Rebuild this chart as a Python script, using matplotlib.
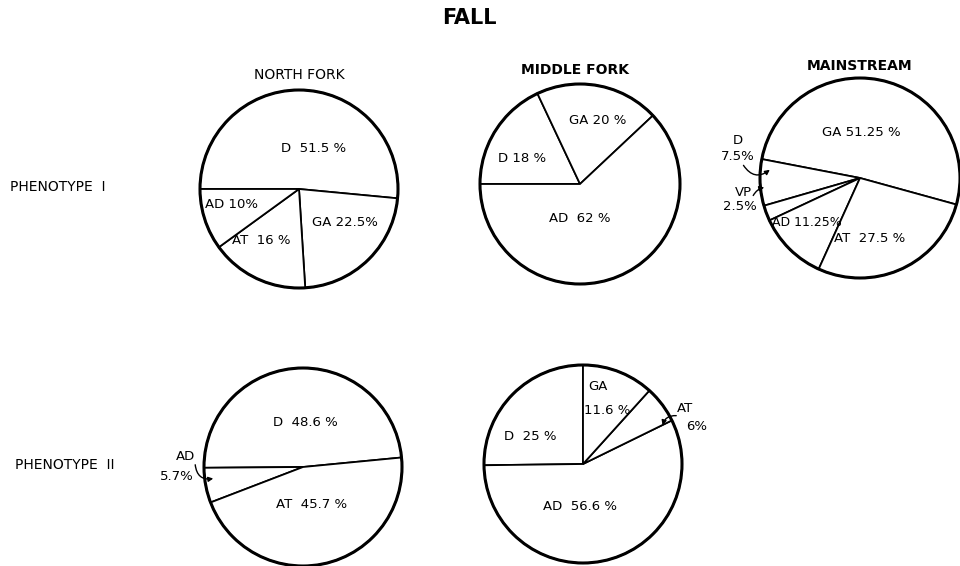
import matplotlib.pyplot as plt
from matplotlib.patches import Circle

W, H = 960, 566

# phenotype I
nf1_labels = ["D", "GA", "AT", "AD"]
nf1_values = [51.5, 22.5, 16, 10]
mf1_labels = ["D", "GA", "AD"]
mf1_values = [18, 20, 62]
ms1_labels = ["GA", "D", "VP", "AD", "AT"]
ms1_values = [51.25, 7.5, 2.5, 11.25, 27.5]
# phenotype II
nf2_labels = ["D", "AD", "AT"]
nf2_values = [48.6, 5.7, 45.7]
mf2_labels = ["D", "AD", "AT", "GA"]
mf2_values = [25, 56.6, 6, 11.6]

col_titles = ["NORTH FORK", "MIDDLE FORK", "MAINSTREAM"]
row_titles = ["PHENOTYPE  I", "PHENOTYPE  II"]

fs = 9.5
ink = "black"


def P(x, y):
    # picture pixel coords (y down) -> axes coords (y up)
    return x, H - y


def txt(x, y, s, **kw):
    opts = dict(ha="center", va="center", fontsize=fs, color=ink)
    opts.update(kw)
    ax.text(*P(x, y), s, **opts)


def lab(labels, values, i, sep="  "):
    return f"{labels[i]}{sep}{values[i]:g} %"


def draw_pie(values, cx, cy, r, start, counterclock=True):
    ax.pie(values, center=P(cx, cy), radius=r, startangle=start,
           counterclock=counterclock,
           wedgeprops=dict(facecolor="white", edgecolor=ink, linewidth=1.3))
    ax.add_patch(Circle(P(cx, cy), r, fill=False, lw=2.2, ec=ink, zorder=5))


def curl(x0, y0, x1, y1, rad):
    ax.annotate("", xy=P(x1, y1), xytext=P(x0, y0),
                arrowprops=dict(arrowstyle="-|>", color=ink, lw=1.0,
                                mutation_scale=7,
                                connectionstyle=f"arc3,rad={rad}"))


fig = plt.figure(figsize=(9.6, 5.66), dpi=100)
ax = fig.add_axes([0, 0, 1, 1])

draw_pie(nf1_values, 299, 189, 99, 180, counterclock=False)
draw_pie(mf1_values, 580, 184, 100, 180, counterclock=False)
draw_pie(ms1_values, 860, 178, 100, -15.4)
draw_pie(nf2_values, 303, 467, 99, 5.5)
draw_pie(mf2_values, 583, 464, 99, 90)

ax.set_xlim(0, W)
ax.set_ylim(0, H)
ax.set_aspect("equal")
ax.set_axis_off()

# titles
txt(469, 18, "FALL", fontsize=15, fontweight="bold")
txt(299, 75, col_titles[0], fontsize=10)
txt(575, 70, col_titles[1], fontsize=10, fontweight="bold")
txt(860, 66, col_titles[2], fontsize=10, fontweight="bold")
txt(10, 187, row_titles[0], ha="left", fontsize=10)
txt(15, 465, row_titles[1], ha="left", fontsize=10)

# north fork, phenotype I
txt(314, 148, lab(nf1_labels, nf1_values, 0))
txt(345, 223, lab(nf1_labels, nf1_values, 1, " ").replace(" %", "%"))
txt(261, 240, lab(nf1_labels, nf1_values, 2))
txt(205, 205, lab(nf1_labels, nf1_values, 3, " ").replace(" %", "%"), ha="left")

# middle fork, phenotype I
txt(522, 159, lab(mf1_labels, mf1_values, 0, " "))
txt(598, 120, lab(mf1_labels, mf1_values, 1, " "))
txt(580, 219, lab(mf1_labels, mf1_values, 2))

# mainstream, phenotype I
txt(861, 133, lab(ms1_labels, ms1_values, 0, " "))
txt(738, 141, ms1_labels[1])
txt(738, 157, f"{ms1_values[1]:g}%")
txt(743, 192, ms1_labels[2])
txt(740, 207, f"{ms1_values[2]:g}%")
txt(807, 223, lab(ms1_labels, ms1_values, 3, " ").replace(" %", "%"), fontsize=9)
txt(870, 238, lab(ms1_labels, ms1_values, 4))
curl(742, 163, 772, 168, 0.6)
curl(752, 198, 767, 187, -0.3)

# north fork, phenotype II
txt(305, 422, lab(nf2_labels, nf2_values, 0))
txt(312, 505, lab(nf2_labels, nf2_values, 2))
txt(186, 456, nf2_labels[1])
txt(177, 476, f"{nf2_values[1]:g}%")
curl(195, 462, 216, 478, 0.6)

# middle fork, phenotype II
txt(530, 437, lab(mf2_labels, mf2_values, 0))
txt(580, 507, lab(mf2_labels, mf2_values, 1))
txt(685, 408, mf2_labels[2])
txt(697, 426, f"{mf2_values[2]:g}%")
txt(598, 386, mf2_labels[3])
txt(607, 411, f"{mf2_values[3]:g} %")
curl(679, 416, 662, 428, 0.5)

fig.savefig("out.png", dpi=100, facecolor="white")
